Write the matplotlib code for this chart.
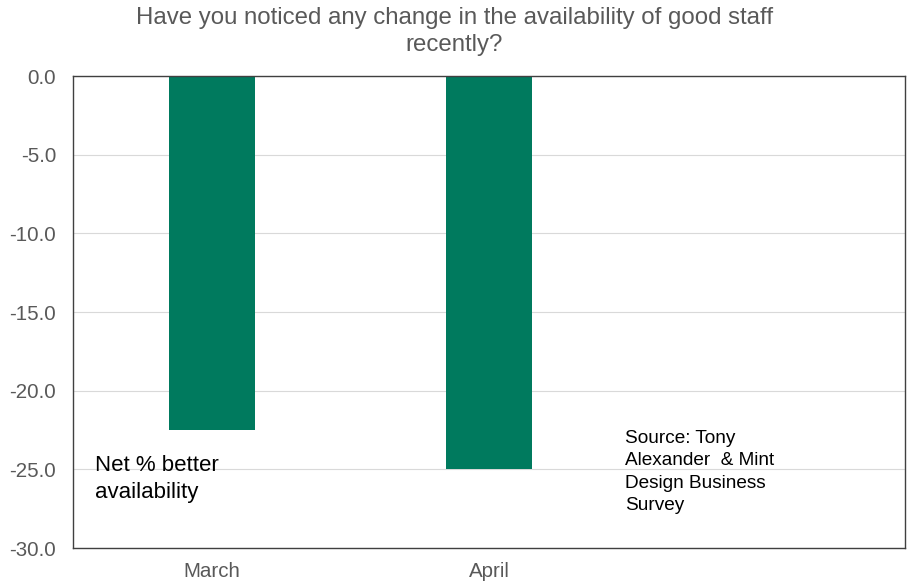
import matplotlib.pyplot as plt

months = ['March', 'April', '']
net_better = [-22.5, -25.0, None]

bar_color = '#007A5E'
grey_text = '#595959'

plt.rcParams['font.family'] = ['Liberation Sans', 'DejaVu Sans']

fig = plt.figure(figsize=(9.09, 5.85), dpi=100)
ax = fig.add_axes([0.0803, 0.0632, 0.9153, 0.8068])

xs = [i for i, v in enumerate(net_better) if v is not None]
vals = [v for v in net_better if v is not None]
ax.bar(xs, vals, width=0.31, color=bar_color, zorder=2)

ax.set_xlim(-0.5, len(months) - 0.5)
ax.set_ylim(-30, 0)
ax.set_yticks([0, -5, -10, -15, -20, -25, -30])
ax.set_yticklabels(['%.1f' % t for t in [0, -5, -10, -15, -20, -25, -30]])
ax.set_xticks(range(len(months)))
ax.set_xticklabels(months)
ax.tick_params(axis='both', length=0, labelsize=14.8, colors=grey_text)
ax.tick_params(axis='y', pad=12)
ax.tick_params(axis='x', pad=10)

ax.yaxis.grid(True, color='#d9d9d9', linewidth=0.8, zorder=0)
ax.set_axisbelow(True)
for s in ax.spines.values():
    s.set_color('#404040')
    s.set_linewidth(1.0)

fig.text(0.5, 0.988,
         'Have you noticed any change in the availability of good staff\nrecently?',
         ha='center', va='top', fontsize=17.3, color=grey_text, linespacing=1.3)

ax.text(0.026, 0.198, 'Net % better\navailability', transform=ax.transAxes,
        fontsize=16, color='black', va='top', ha='left', linespacing=1.38)
ax.text(0.663, 0.25, 'Source: Tony\nAlexander  & Mint\nDesign Business\nSurvey',
        transform=ax.transAxes, fontsize=13.7, color='black', va='top', ha='left',
        linespacing=1.42)

fig.savefig('out.png', dpi=100)
